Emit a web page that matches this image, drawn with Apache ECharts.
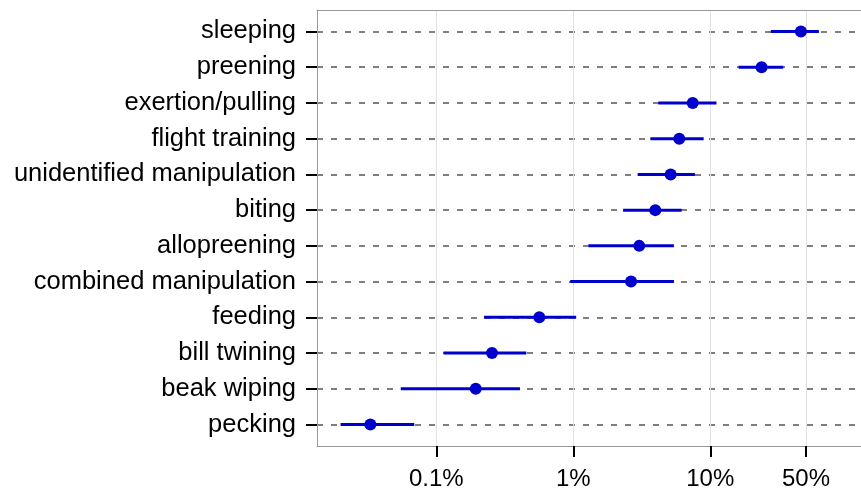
<!DOCTYPE html>
<html>
<head>
<meta charset="utf-8">
<script src="https://cdn.jsdelivr.net/npm/echarts@6/dist/echarts.min.js"></script>
<style>
  html, body { margin: 0; padding: 0; background: #fff; }
  #main { width: 861px; height: 491px; }
</style>
</head>
<body>
<div id="main"></div>
<script>
// behaviours, bottom to top (percent of time)
var categories = ['pecking', 'beak wiping', 'bill twining', 'feeding', 'combined manipulation',
    'allopreening', 'biting', 'unidentified manipulation', 'flight training',
    'exertion/pulling', 'preening', 'sleeping'];
var estimate = [0.033, 0.194, 0.255, 0.565, 2.64, 3.03, 3.97, 5.14, 5.94, 7.44, 23.7, 45.9];
var lower = [0.020, 0.055, 0.113, 0.223, 0.95, 1.29, 2.31, 2.95, 3.65, 4.17, 16.1, 27.7];
var upper = [0.069, 0.408, 0.454, 1.05, 5.43, 5.43, 6.18, 7.73, 8.95, 11.1, 34.1, 62.1];
var xTicks = [0.1, 1, 10, 50];

var chart = echarts.init(document.getElementById('main'));

var yPos = [];
for (var i = 0; i < categories.length; i++) yPos.push(i + 1);

var points = estimate.map(function(v, i) { return [v, i + 1]; });
var intervals = lower.map(function(v, i) { return [v, upper[i], i + 1]; });

var font = 'Liberation Sans, Arial, Helvetica, sans-serif';
var frame = { show: true, lineStyle: { color: '#999', width: 1 } };

chart.setOption({
    animation: false,
    backgroundColor: '#fff',
    grid: {
        left: 317,
        right: 0,
        top: 10,
        bottom: 43,
        show: false
    },
    xAxis: [{
        type: 'log',
        min: 0.01346,
        max: 126,
        axisLine: frame,
        axisTick: {
            show: true,
            length: 11,
            lineStyle: { color: '#000', width: 2 },
            customValues: xTicks
        },
        axisLabel: {
            customValues: xTicks,
            formatter: function(v) { return v + '%'; },
            fontFamily: font,
            fontSize: 24,
            color: '#000',
            margin: 21
        },
        splitLine: {
            show: true,
            lineStyle: { color: '#e3e3e3', width: 1 }
        },
        minorTick: { show: false },
        minorSplitLine: { show: false }
    }, {
        // top edge of the panel
        type: 'log',
        position: 'top',
        min: 0.01346,
        max: 126,
        axisLine: frame,
        axisTick: { show: false },
        axisLabel: { show: false },
        splitLine: { show: false }
    }],
    yAxis: {
        type: 'value',
        min: 0.4,
        max: 12.6,
        axisLine: frame,
        axisTick: {
            show: true,
            length: 11,
            lineStyle: { color: '#000', width: 2 },
            customValues: yPos
        },
        axisLabel: {
            customValues: yPos,
            formatter: function(v) { return categories[Math.round(v) - 1]; },
            fontFamily: font,
            fontSize: 25.5,
            color: '#000',
            margin: 21
        },
        splitLine: {
            show: true,
            lineStyle: { color: '#7f7f7f', width: 1.8, type: [6, 8] }
        }
    },
    series: [
        {
            type: 'custom',
            data: intervals,
            z: 3,
            renderItem: function(params, api) {
                var a = api.coord([api.value(0), api.value(2)]);
                var b = api.coord([api.value(1), api.value(2)]);
                return {
                    type: 'line',
                    shape: { x1: a[0], y1: a[1], x2: b[0], y2: b[1] },
                    style: { stroke: '#0000cd', lineWidth: 3 }
                };
            }
        },
        {
            type: 'scatter',
            data: points,
            z: 4,
            symbol: 'circle',
            symbolSize: 12,
            itemStyle: { color: '#0000cd', opacity: 1 }
        }
    ]
});
</script>
</body>
</html>
